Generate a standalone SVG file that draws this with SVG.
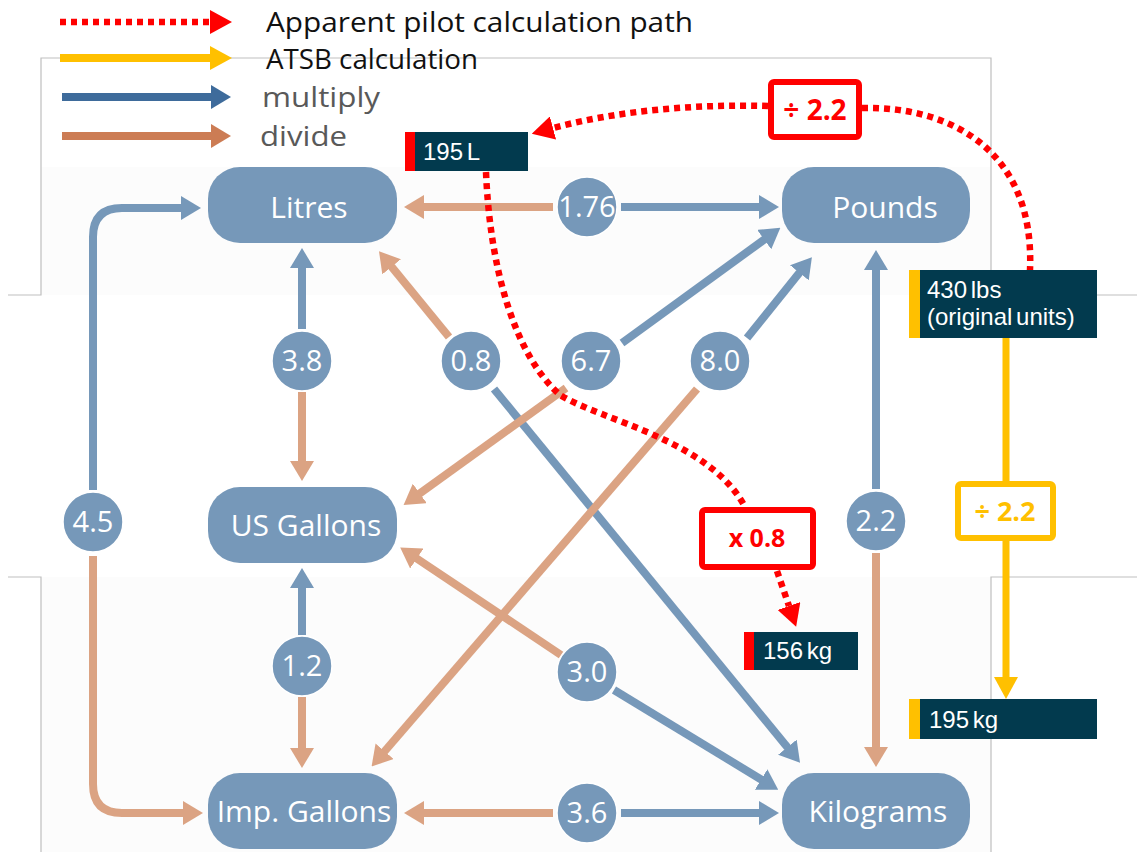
<svg xmlns="http://www.w3.org/2000/svg" width="1137" height="852" viewBox="0 0 1137 852">
<style>
.frame{fill:none;stroke:#bfbfbf;stroke-width:1.2}
.node{fill:#7698b9}
.nlabel{font-family:"Open Sans","Liberation Sans",sans-serif;font-size:30px;fill:#ffffff;text-anchor:middle}
.circ{fill:#7698b9;stroke:#ffffff;stroke-width:1.5}
.clabel{font-family:"Open Sans","Liberation Sans",sans-serif;font-size:29px;fill:#ffffff;text-anchor:middle}
.blue{fill:none;stroke:#7698b9;stroke-width:8;marker-end:url(#hb)}
.tan{fill:none;stroke:#dba383;stroke-width:8;marker-end:url(#ht)}
.red{fill:none;stroke:#ff0000;stroke-width:6.5;stroke-dasharray:6 5}
.yel{fill:none;stroke:#ffc000;stroke-width:7}
.dark{fill:#023a4e}
.dtext{font-family:"Liberation Sans",Arial,sans-serif;font-size:24px;fill:#ffffff;word-spacing:-3px}
.rbox{fill:#ffffff;stroke:#ff0000;stroke-width:6}
.ybox{fill:#ffffff;stroke:#ffc000;stroke-width:6}
.btxt{font-family:"Open Sans","Liberation Sans",sans-serif;font-weight:bold;text-anchor:middle}
.leg{font-family:"Open Sans","Liberation Sans",sans-serif;font-size:28px}
</style>
<defs>
<marker id="hb" markerUnits="userSpaceOnUse" markerWidth="20" markerHeight="24" viewBox="0 0 20 24" refX="1" refY="12" orient="auto"><path d="M0,0 L20,12 L0,24 z" fill="#7698b9"/></marker>
<marker id="ht" markerUnits="userSpaceOnUse" markerWidth="20" markerHeight="24" viewBox="0 0 20 24" refX="1" refY="12" orient="auto"><path d="M0,0 L20,12 L0,24 z" fill="#dba383"/></marker>
<marker id="hr" markerUnits="userSpaceOnUse" markerWidth="22" markerHeight="24" viewBox="0 0 22 24" refX="0" refY="12" orient="auto"><path d="M0,0 L22,12 L0,24 z" fill="#ff0000"/></marker>
<marker id="hy" markerUnits="userSpaceOnUse" markerWidth="22" markerHeight="24" viewBox="0 0 22 24" refX="0" refY="12" orient="auto"><path d="M0,0 L22,12 L0,24 z" fill="#ffc000"/></marker>
<marker id="hlb" markerUnits="userSpaceOnUse" markerWidth="20" markerHeight="24" viewBox="0 0 20 24" refX="0" refY="12" orient="auto"><path d="M0,0 L20,12 L0,24 z" fill="#3e6b9b"/></marker>
<marker id="hlo" markerUnits="userSpaceOnUse" markerWidth="20" markerHeight="24" viewBox="0 0 20 24" refX="0" refY="12" orient="auto"><path d="M0,0 L20,12 L0,24 z" fill="#cc7c54"/></marker>
</defs>
<rect width="1137" height="852" fill="#ffffff"/>
<g id="background">
<rect x="41" y="167" width="950" height="128" fill="#fcfcfc"/>
<rect x="41" y="577" width="950" height="275" fill="#fcfcfc"/>
<path class="frame" d="M8,295 H41 V58 H991 V295 H1137"/>
<path class="frame" d="M8,577 H41 V852"/>
<path class="frame" d="M1137,577 H991 V852"/>
</g>
<g id="legend">
<line x1="60" y1="22" x2="210" y2="22" class="red" marker-end="url(#hr)"/>
<text class="leg" x="266" y="32" fill="#111111" textLength="427" lengthAdjust="spacingAndGlyphs">Apparent pilot calculation path</text>
<line x1="60" y1="58" x2="210" y2="58" stroke="#ffc000" stroke-width="8" marker-end="url(#hy)"/>
<text class="leg" x="266" y="69" fill="#111111" textLength="212" lengthAdjust="spacingAndGlyphs">ATSB calculation</text>
<line x1="62" y1="97" x2="211" y2="97" stroke="#3e6b9b" stroke-width="8" marker-end="url(#hlb)"/>
<text class="leg" x="262" y="107" fill="#595959" font-size="30" textLength="118" lengthAdjust="spacingAndGlyphs">multiply</text>
<line x1="62" y1="136" x2="211" y2="136" stroke="#cc7c54" stroke-width="8" marker-end="url(#hlo)"/>
<text class="leg" x="260" y="146" fill="#595959" font-size="30" textLength="87" lengthAdjust="spacingAndGlyphs">divide</text>
</g>
<g id="connectors">
<line class="tan" x1="553" y1="207" x2="423" y2="207"/>
<line class="blue" x1="621" y1="207" x2="760" y2="207"/>
<line class="blue" x1="302" y1="329" x2="302" y2="267"/>
<line class="tan" x1="302" y1="392" x2="302" y2="462"/>
<line class="tan" x1="449" y1="337" x2="391" y2="266"/>
<line class="blue" x1="494" y1="389" x2="788" y2="748"/>
<line class="blue" x1="622" y1="343" x2="765" y2="239"/>
<line class="tan" x1="566" y1="388" x2="419" y2="494"/>
<line class="blue" x1="747" y1="338" x2="800" y2="272"/>
<line class="tan" x1="697" y1="389" x2="384" y2="752"/>
<path class="blue" d="M93,490 V237 Q93,208 122,208 H182"/>
<path class="tan" d="M93,556 V784 Q93,813 122,813 H184"/>
<line class="blue" x1="876" y1="489" x2="876" y2="269"/>
<line class="tan" x1="876" y1="553" x2="876" y2="748"/>
<line class="blue" x1="302" y1="635" x2="302" y2="587"/>
<line class="tan" x1="302" y1="697" x2="302" y2="749"/>
<line class="tan" x1="561" y1="655" x2="416" y2="558"/>
<line class="blue" x1="614" y1="690" x2="762" y2="780"/>
<line class="tan" x1="553" y1="813" x2="423" y2="813"/>
<line class="blue" x1="621" y1="813" x2="760" y2="813"/>
</g>
<g id="n-litres"><rect class="node" x="208" y="167" width="189" height="76" rx="32"/><text class="nlabel" x="309" y="218">Litres</text></g>
<g id="n-pounds"><rect class="node" x="782" y="167" width="188" height="76" rx="32"/><text class="nlabel" x="885" y="218">Pounds</text></g>
<g id="n-usgallons"><rect class="node" x="208" y="487" width="189" height="76" rx="32"/><text class="nlabel" x="306" y="536">US Gallons</text></g>
<g id="n-impgallons"><rect class="node" x="208" y="773" width="189" height="76" rx="32"/><text class="nlabel" x="304" y="822">Imp. Gallons</text></g>
<g id="n-kilograms"><rect class="node" x="782" y="773" width="188" height="76" rx="32"/><text class="nlabel" x="878" y="822">Kilograms</text></g>
<g id="c-176"><circle class="circ" cx="587" cy="207" r="30"/><text class="clabel" x="587" y="217">1.76</text></g>
<g id="c-38"><circle class="circ" cx="302" cy="361" r="30"/><text class="clabel" x="302" y="371">3.8</text></g>
<g id="c-08"><circle class="circ" cx="471" cy="361" r="30"/><text class="clabel" x="471" y="371">0.8</text></g>
<g id="c-67"><circle class="circ" cx="591" cy="361" r="30"/><text class="clabel" x="591" y="371">6.7</text></g>
<g id="c-80"><circle class="circ" cx="720" cy="361" r="30"/><text class="clabel" x="720" y="371">8.0</text></g>
<g id="c-45"><circle class="circ" cx="93" cy="522" r="30"/><text class="clabel" x="93" y="532">4.5</text></g>
<g id="c-22"><circle class="circ" cx="876" cy="521" r="30"/><text class="clabel" x="876" y="531">2.2</text></g>
<g id="c-12"><circle class="circ" cx="302" cy="666" r="30"/><text class="clabel" x="302" y="676">1.2</text></g>
<g id="c-30"><circle class="circ" cx="587" cy="672" r="30"/><text class="clabel" x="587" y="682">3.0</text></g>
<g id="c-36"><circle class="circ" cx="587" cy="813" r="30"/><text class="clabel" x="587" y="823">3.6</text></g>
<g id="paths">
<path class="yel" d="M1006,338 V481"/>
<path class="yel" d="M1006,541 V677" marker-end="url(#hy)"/>
<path class="red" d="M768,106 C700,104 620,110 553,128" marker-end="url(#hr)"/>
<path class="red" d="M862,108 C950,106 1035,150 1030,270"/>
<path class="red" d="M486,172 C490,270 515,355 560,395 C600,420 710,440 745,507"/>
<path class="red" d="M777,571 L789,606" marker-end="url(#hr)"/>
</g>
<g id="b-195l"><rect class="dark" x="405" y="132" width="123" height="39"/><rect x="405" y="132" width="10" height="39" fill="#ff0000"/><text class="dtext" x="423" y="160">195 L</text></g>
<g id="b-430"><rect class="dark" x="909" y="270" width="188" height="68"/><rect x="909" y="270" width="11" height="68" fill="#ffc000"/><text class="dtext" x="927" y="298">430 lbs</text><text class="dtext" x="927" y="325" word-spacing="0">(original units)</text></g>
<g id="b-156"><rect class="dark" x="744" y="632" width="114" height="38"/><rect x="744" y="632" width="10" height="38" fill="#ff0000"/><text class="dtext" x="763" y="659">156 kg</text></g>
<g id="b-195kg"><rect class="dark" x="909" y="699" width="188" height="40"/><rect x="909" y="699" width="11" height="40" fill="#ffc000"/><text class="dtext" x="929" y="728">195 kg</text></g>
<g id="r-div22"><rect class="rbox" x="771" y="82" width="88" height="55" rx="3"/><text class="btxt" x="815" y="120" font-size="28" fill="#ff0000">÷ 2.2</text></g>
<g id="r-x08"><rect class="rbox" x="702" y="510" width="111" height="57" rx="3"/><text class="btxt" x="757" y="547" font-size="25" fill="#ff0000">x 0.8</text></g>
<g id="y-div22"><rect class="ybox" x="958" y="484" width="95" height="54" rx="3"/><text class="btxt" x="1005" y="521" font-size="27" fill="#ffc000">÷ 2.2</text></g>
</svg>
